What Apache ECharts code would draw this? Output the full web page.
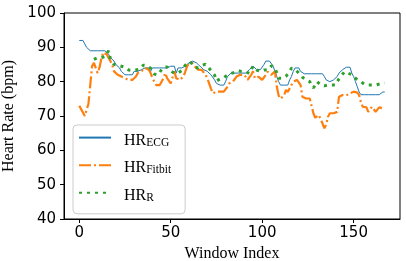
<!DOCTYPE html>
<html>
<head>
<meta charset="utf-8">
<script src="https://cdn.jsdelivr.net/npm/echarts@6/dist/echarts.min.js"></script>
<style>html,body{margin:0;padding:0;background:#fff;}#c{width:406px;height:261px;}</style>
</head>
<body>
<div id="c"></div>
<script>
const seriesNames = ['HR_ECG', 'HR_Fitbit', 'HR_R'];
const xTicks = [0, 50, 100, 150];
const yTicks = [40, 50, 60, 70, 80, 90, 100];

const hrECG = [
  92, 92, 92, 91, 90, 89.5, 89, 89, 89, 89,
  89, 89, 89, 89, 89, 89, 88, 87, 86.5, 86,
  85, 84.5, 84, 83, 82.5, 82, 82, 82, 82, 82,
  83, 83, 83, 83.5, 83.5, 84, 84, 84, 84, 83,
  84, 84, 84, 84, 84, 84, 84, 84, 84, 84.5,
  84.5, 84.5, 84.5, 82.5, 84, 84, 84, 84, 84.5, 85,
  85.5, 86, 86, 86, 85.5, 85, 84.5, 84, 83.5, 83.5,
  83, 82.5, 82, 81.5, 80.5, 79.5, 79, 79, 79, 79,
  80, 81.5, 82, 82.5, 82.5, 82.5, 82.5, 82.5, 82.5, 82.5,
  82.5, 82.5, 83, 83.5, 84, 84.5, 84, 83.5, 83.5, 83.5,
  83.5, 85, 86, 86, 86, 85.5, 84.5, 83, 81.5, 80,
  79, 79, 79, 79, 79, 80.5, 81.5, 83, 84, 84,
  84, 83, 82.5, 82.3, 82.3, 82.3, 82.3, 82.3, 82.3, 82.3,
  82.3, 82.3, 82.3, 82.3, 81.5, 80.5, 80, 80, 80, 80.5,
  81, 81.5, 82.5, 83, 83.5, 84, 84.2, 84.2, 84.2, 82.5,
  81.5, 80, 78.5, 77, 76.2, 76.2, 76.2, 76.2, 76.2, 76.2,
  76.2, 76.2, 76.2, 76.2, 76.2, 76.2, 77, 77
];

const hrFitbit = [
  73, 72, 71, 70, 69.5, 73.5, 79, 84.5, 85.5, 84,
  82.5, 84, 86.5, 88.5, 89, 88, 87, 86, 85, 83,
  82.5, 82, 81.5, 81.5, 81.5, 81, 80.5, 80.5, 80.5, 80.5,
  81, 81.5, 82.5, 82.5, 83, 83.5, 84, 84.5, 83.5, 82.5,
  81, 80, 79, 78.7, 79, 80, 81, 82.5, 81, 80.5,
  79.5, 79.5, 83, 81, 80.5, 80.5, 81, 81.5, 83, 84.5,
  85.3, 85.3, 85.3, 84.5, 84, 83.5, 83.4, 83.4, 83, 82,
  81, 80.5, 78, 76.6, 77, 77.1, 77.1, 77.1, 77.1, 77.1,
  77.1, 78.5, 79.5, 80, 80, 80.5, 81.5, 81.5, 82, 82.4,
  82, 81.4, 80.5, 80.5, 82, 83, 81, 80.5, 81.4, 81,
  80.5, 81, 82, 82.9, 82.5, 82, 82.5, 83, 78.5, 76,
  75, 74.6, 76, 77.6, 77, 77.5, 79, 80, 80.5, 80.5,
  80, 79, 75.6, 75.3, 75.1, 75.1, 75.1, 73, 70.8, 69.5,
  69.3, 70.3, 69, 67.8, 66.4, 67.5, 69.8, 70.8, 70.5, 70.8,
  71, 71.2, 75.6, 76, 76.1, 76.1, 76, 76.3, 76.6, 76.8,
  77.1, 77.1, 76.8, 76.1, 74, 72.7, 73, 72.5, 71.2, 72,
  72.7, 72, 71.2, 71.5, 72.5, 72.9, 72.2, 72
];

const hrR = [
  null, null, null, null, null, null, null, null, 86.5, 86.5,
  87, 87, 87, 87.3, 87.3, 88, 89, 86.7, 85.8, 85,
  85, 84.8, 85.1, 84.5, 84.2, 84.2, 83.8, 83.4, 83.2, 83.3,
  83.4, 83.4, 83.4, 83.7, 84.2, 84.8, 85, 84.7, 84.2, 83.9,
  83, 82.2, 82.1, 82, 81.9, 83.5, 84.2, 84.6, 84.3, 83.8,
  83.1, 82.8, 82.5, 82.2, 82.5, 82.8, 83.2, 84, 84.8, 85.3,
  85.8, 86, 85.2, 84.3, 83.9, 84, 84.3, 84.7, 85.1, 85.1,
  84.5, 83.9, 83.4, 82.5, 81.9, 80.2, 80.5, 80.8, 81, 81.2,
  81.5, 81.9, 82.2, 82.4, 82.4, 82.7, 83, 83.2, 83.2, 82.9,
  82.9, 82.9, 82.7, 82.4, 83.5, 84.5, 84.2, 83.4, 83, 83,
  83.2, 83.4, 83.4, 83.4, 84, 84.6, 85, 84, 82.5, 81,
  81, 81, 81.3, 81.6, 81.9, 82.8, 83.9, 83.9, 83.6, 83.4,
  82.5, 81.9, 81.3, 80.8, 80.5, 80.2, 80, 79, 78.2, 79,
  80, 79.5, 79, 78.5, 78.8, 79, 79, 79, 79, 79,
  79, 80, 80.8, 81.4, 82.2, 82.9, 82.7, 82.5, 82.4, 82,
  81.4, 81, 80.6, 80.3, 80, 79.6, 79.2, 79, 79, 79,
  79, 79, 79, 79.2, 79.3, 79.5, 79.5, 79.6
];

const toPairs = arr => arr.map((v, i) => [i, v]);
const subs = { 'HR_ECG': 'ECG', 'HR_Fitbit': 'Fitbit', 'HR_R': 'R' };

const chart = echarts.init(document.getElementById('c'), null, { renderer: 'canvas' });
chart.setOption({
  animation: false,
  backgroundColor: '#ffffff',
  grid: { left: 64, right: 6, top: 13, bottom: 42, outerBoundsMode: 'none', containLabel: false,
          show: true, borderColor: '#000', borderWidth: 1, backgroundColor: 'transparent' },
  xAxis: {
    type: 'value', min: -8.35, max: 175.35,
    name: 'Window Index', nameLocation: 'middle', nameGap: 27,
    nameTextStyle: { fontFamily: 'Liberation Serif', fontSize: 16, color: '#000' },
    axisLine: { show: true, onZero: false, lineStyle: { color: '#000', width: 1 } },
    axisTick: { show: true, length: 4, lineStyle: { color: '#000' }, customValues: xTicks },
    axisLabel: { margin: 7, fontFamily: 'DejaVu Sans', fontSize: 15, color: '#000', customValues: xTicks },
    splitLine: { show: false }
  },
  yAxis: {
    type: 'value', min: yTicks[0], max: yTicks[yTicks.length - 1], interval: 10,
    name: 'Heart Rate (bpm)', nameLocation: 'middle', nameGap: 33,
    nameTextStyle: { fontFamily: 'Liberation Serif', fontSize: 16, color: '#000' },
    axisLine: { show: true, onZero: false, lineStyle: { color: '#000', width: 1 } },
    axisTick: { show: true, length: 4, lineStyle: { color: '#000' } },
    axisLabel: { margin: 8, fontFamily: 'DejaVu Sans', fontSize: 15, color: '#000' },
    splitLine: { show: false }
  },
  legend: {
    orient: 'vertical', left: 73, top: 125,
    padding: [7, 14, 10, 5], itemGap: 11, itemWidth: 32, itemHeight: 14,
    backgroundColor: 'rgba(255,255,255,0.8)', borderColor: '#cccccc', borderWidth: 1, borderRadius: 4,
    itemStyle: { opacity: 0 },
    data: seriesNames,
    formatter: n => '{a|HR}{b|' + subs[n] + '}',
    textStyle: {
      rich: {
        a: { fontFamily: 'Liberation Serif', fontSize: 16, color: '#000', lineHeight: 22, verticalAlign: 'bottom', padding: [0, 0, 0, 8] },
        b: { fontFamily: 'Liberation Serif', fontSize: 11.5, color: '#000', lineHeight: 9, verticalAlign: 'bottom' }
      }
    }
  },
  series: [
    { name: seriesNames[0], type: 'line', data: toPairs(hrECG), showSymbol: false, symbol: 'none',
      lineStyle: { color: '#1f77b4', width: 1 }, itemStyle: { color: '#1f77b4' }, z: 2 },
    { name: seriesNames[1], type: 'line', data: toPairs(hrFitbit), showSymbol: false, symbol: 'none',
      lineStyle: { color: '#ff7f0e', width: 2.2, type: [12, 3, 2, 3], cap: 'butt' }, itemStyle: { color: '#ff7f0e' }, z: 3 },
    { name: seriesNames[2], type: 'line', data: toPairs(hrR), showSymbol: false, symbol: 'none', connectNulls: false,
      lineStyle: { color: '#2ca02c', width: 3, type: [3, 5], cap: 'butt' }, itemStyle: { color: '#2ca02c' }, z: 4 }
  ]
});
</script>
</body>
</html>
